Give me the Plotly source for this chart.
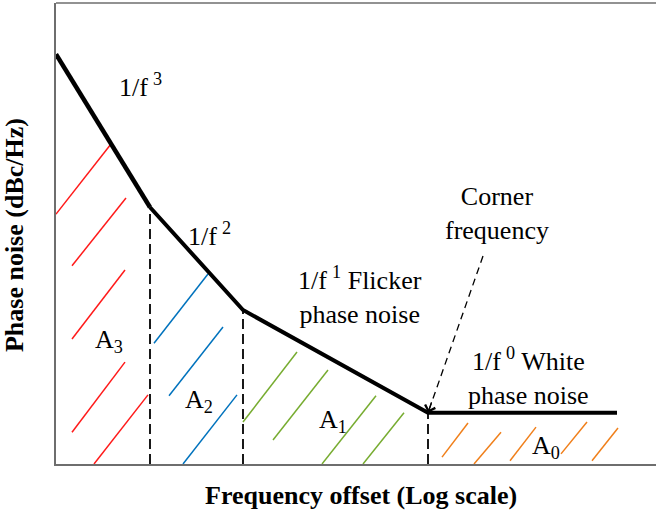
import plotly.graph_objects as go

# ---- data (x: log10 frequency offset, arbitrary decades; y: phase noise, arbitrary units) ----
curve_x = [0.00, 0.94, 1.87, 3.72, 5.61]
curve_y = [88.9, 55.7, 33.4, 11.1, 11.1]
region_names = ["A3", "A2", "A1", "A0"]
slope_labels = ["1/f 3", "1/f 2", "1/f 1 Flicker phase noise", "1/f 0 White phase noise"]

# hatch segments per region: x0, y0, x1, y1
red_x0 = [0.00, 0.16, 0.16, 0.16, 0.38]
red_y0 = [54.2, 43.0, 27.1, 6.9, 0.0]
red_x1 = [0.55, 0.70, 0.69, 0.69, 0.92]
red_y1 = [69.4, 57.7, 42.1, 22.1, 15.0]

blue_x0 = [0.98, 1.13, 1.27]
blue_y0 = [26.2, 14.8, 0.0]
blue_x1 = [1.52, 1.67, 1.81]
blue_y1 = [41.2, 29.7, 15.0]

green_x0 = [1.87, 2.17, 2.66, 3.07]
green_y0 = [9.1, 5.2, 0.0, 0.0]
green_x1 = [2.41, 2.72, 3.20, 3.48]
green_y1 = [24.3, 20.4, 14.8, 11.1]

orange_x0 = [3.86, 4.18, 4.54, 5.05, 5.36]
orange_y0 = [1.5, 0.0, 0.7, 2.2, 0.7]
orange_x1 = [4.12, 4.45, 4.80, 5.31, 5.62]
orange_y1 = [8.9, 6.9, 8.0, 9.1, 7.8]

arrow_start = (4.27, 45.1)

FONT = "Liberation Serif, Times New Roman, serif"
TS = "\u2009"  # thin space before superscripts

fig = go.Figure()

def seg_trace(x0, y0, x1, y1, color, width=1.5, dash="solid"):
    xs, ys = [], []
    for a, b, c, d in zip(x0, y0, x1, y1):
        xs += [a, c, None]
        ys += [b, d, None]
    return go.Scatter(x=xs, y=ys, mode="lines", line=dict(color=color, width=width, dash=dash),
                      hoverinfo="skip", showlegend=False)

fig.add_trace(seg_trace(red_x0, red_y0, red_x1, red_y1, "#FF1A1A"))
fig.add_trace(seg_trace(blue_x0, blue_y0, blue_x1, blue_y1, "#0072BD"))
fig.add_trace(seg_trace(green_x0, green_y0, green_x1, green_y1, "#77AC30"))
fig.add_trace(seg_trace(orange_x0, orange_y0, orange_x1, orange_y1, "#F07F1A"))

# dashed verticals at break points
bx = curve_x[1:4]
by = curve_y[1:4]
fig.add_trace(seg_trace(bx, [0] * len(bx), bx, by, "black", width=1.8, dash="10px,5px"))

# dashed arrow line to corner
fig.add_trace(seg_trace([arrow_start[0]], [arrow_start[1]], [curve_x[3]], [curve_y[3]],
                        "black", width=1.3, dash="7px,5px"))

# main piecewise curve
fig.add_trace(go.Scatter(x=curve_x[:2], y=curve_y[:2], mode="lines",
                         line=dict(color="black", width=4.5), showlegend=False, hoverinfo="skip"))
fig.add_trace(go.Scatter(x=curve_x[1:], y=curve_y[1:], mode="lines",
                         line=dict(color="black", width=4), showlegend=False, hoverinfo="skip"))

ann = []
def txt(text, x, y, size=26):
    ann.append(dict(text=text, x=x, y=y, xref="x", yref="y", showarrow=False,
                    font=dict(family=FONT, size=size, color="black"), align="center"))

txt("1/f" + TS + "<sup>3</sup>", 0.84, 82.2)
txt("1/f" + TS + "<sup>2</sup>", 1.53, 49.7)
txt("1/f" + TS + "<sup>1</sup> Flicker<br>phase noise", 3.04, 36.5)
txt("Corner<br>frequency", 4.41, 54.4)
txt("1/f" + TS + "<sup>0</sup> White<br>phase noise", 4.72, 18.9)
txt("A<sub>3</sub>", 0.53, 26.7)
txt("A<sub>2</sub>", 1.43, 13.7)
txt("A<sub>1</sub>", 2.77, 9.3)
txt("A<sub>0</sub>", 4.90, 3.7)

# arrowhead at corner
ann.append(dict(x=curve_x[3], y=curve_y[3], xref="x", yref="y", ax=4, ay=-12, text="",
                showarrow=True, arrowhead=4, arrowsize=1.6, arrowwidth=1.3, arrowcolor="black"))

# axis titles
ann.append(dict(text="<b>Frequency offset (Log scale)</b>", x=0.508, y=-0.068, xref="paper", yref="paper",
                showarrow=False, font=dict(family=FONT, size=26, color="black"), yanchor="middle"))
ann.append(dict(text="<b>Phase noise (dBc/Hz)</b>", x=-0.068, y=0.497, xref="paper", yref="paper",
                showarrow=False, textangle=-90, font=dict(family=FONT, size=26, color="black"),
                xanchor="center", yanchor="middle"))

fig.update_layout(
    width=656, height=513,
    margin=dict(l=56, r=0, t=3, b=49),
    paper_bgcolor="white", plot_bgcolor="white",
    annotations=ann,
    xaxis=dict(range=[0, 6], showgrid=False, zeroline=False, showticklabels=False, ticks="",
               showline=True, linecolor="#6e6e6e", linewidth=1.5),
    yaxis=dict(range=[0, 100], showgrid=False, zeroline=False, showticklabels=False, ticks="",
               showline=True, linecolor="#6e6e6e", linewidth=1.5),
    shapes=[dict(type="line", xref="paper", yref="paper", x0=0, x1=1, y0=1, y1=1,
                 line=dict(color="#6e6e6e", width=1.5))],
)

fig.write_html("out.html", config={"displayModeBar": False},
               post_script="document.body.style.margin='0';document.body.style.overflow='hidden';")
